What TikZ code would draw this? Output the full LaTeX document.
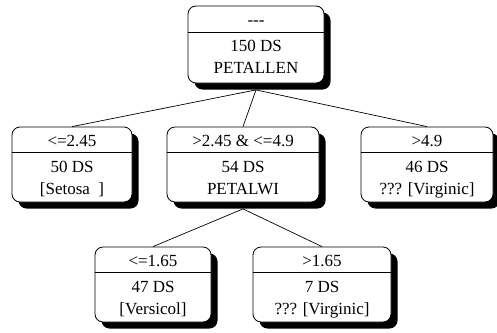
\documentclass[tikz,border=0pt]{standalone}
\usepackage{fontspec}
\setmainfont{Liberation Serif}
\usetikzlibrary{shadows}
\tikzset{
  treebox/.style={draw, line width=0.8pt, rounded corners=8pt, fill=white,
    drop shadow={shadow xshift=6.5pt, shadow yshift=-6.5pt, fill=black, opacity=1},
    inner sep=0pt},
  lbl/.style={font=\fontsize{17}{19}\selectfont, inner sep=0pt, anchor=base},
  sepline/.style={line width=0.7pt},
  edge/.style={line width=0.7pt}
}
\begin{document}
\begin{tikzpicture}[x=1pt,y=-1pt]
\useasboundingbox (0,0) rectangle (497,332);
% boxes
\node[treebox, minimum width=136pt, minimum height=77pt] (root) at (256,44.5) {};
\node[treebox, minimum width=120pt, minimum height=75pt] (left) at (72,164.5) {};
\node[treebox, minimum width=152pt, minimum height=75pt] (mid) at (243,164.5) {};
\node[treebox, minimum width=132pt, minimum height=75pt] (right) at (427,164.5) {};
\node[treebox, minimum width=116pt, minimum height=75pt] (bl) at (153,284.5) {};
\node[treebox, minimum width=138pt, minimum height=75pt] (br) at (322,284.5) {};
% separators
\draw[sepline] (root.west |- 0,32) -- (root.east |- 0,32);
\draw[sepline] (left.west |- 0,152) -- (left.east |- 0,152);
\draw[sepline] (mid.west |- 0,152) -- (mid.east |- 0,152);
\draw[sepline] (right.west |- 0,152) -- (right.east |- 0,152);
\draw[sepline] (bl.west |- 0,272) -- (bl.east |- 0,272);
\draw[sepline] (br.west |- 0,272) -- (br.east |- 0,272);
% texts
\node[lbl] (root-a) at (256,25) {-{}-{}-};
\node[lbl] (root-b) at (256,51) {150 DS};
\node[lbl] (root-c) at (256,73) {PETALLEN};
\node[lbl] (left-a) at (72,146) {<=2.45};
\node[lbl] (left-b) at (72,172) {50 DS};
\node[lbl] (left-c) at (72,194) {[Setosa\ \ ]};
\node[lbl] (mid-a) at (243,146) {>2.45 \& <=4.9};
\node[lbl] (mid-b) at (243,172) {54 DS};
\node[lbl] (mid-c) at (243,194) {PETALWI};
\node[lbl] (right-a) at (427,146) {>4.9};
\node[lbl] (right-b) at (427,172) {46 DS};
\node[lbl] (right-c) at (427,194) {??? [Virginic]};
\node[lbl] (bl-a) at (153,266) {<=1.65};
\node[lbl] (bl-b) at (153,292) {47 DS};
\node[lbl] (bl-c) at (153,314) {[Versicol]};
\node[lbl] (br-a) at (322,266) {>1.65};
\node[lbl] (br-b) at (322,292) {7 DS};
\node[lbl] (br-c) at (322,314) {??? [Virginic]};
% connectors
\draw[edge] ([yshift=-6.5pt]root.south) -- (left.north);
\draw[edge] ([yshift=-6.5pt]root.south) -- (mid.north);
\draw[edge] ([yshift=-6.5pt]root.south) -- (right.north);
\draw[edge] ([yshift=-6.5pt]mid.south) -- (bl.north);
\draw[edge] ([yshift=-6.5pt]mid.south) -- (br.north);
\end{tikzpicture}
\end{document}
